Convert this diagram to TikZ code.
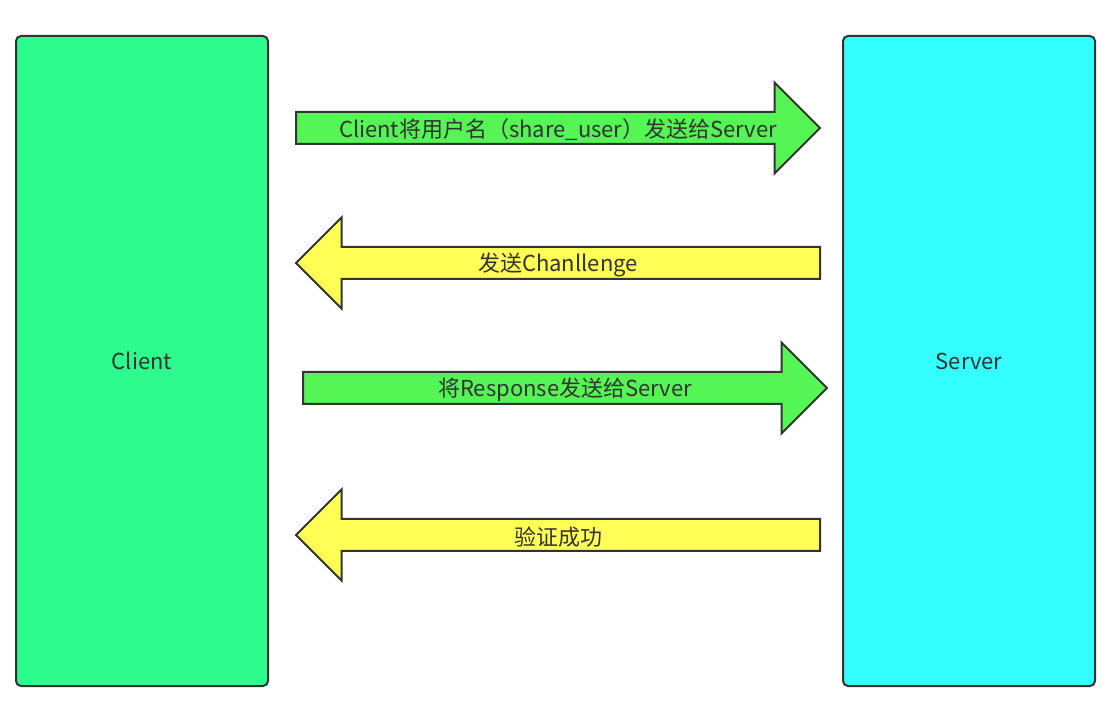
\documentclass[tikz,border=0pt]{standalone}
\usepackage{fontspec}
\setmainfont{Noto Sans CJK SC}
\usetikzlibrary{shapes.arrows, positioning}
\definecolor{clientgreen}{RGB}{46,251,142}
\definecolor{servercyan}{RGB}{51,255,255}
\definecolor{sendgreen}{RGB}{85,245,85}
\definecolor{replyyellow}{RGB}{255,255,85}
\definecolor{edgegray}{RGB}{51,51,51}

\begin{document}
\begin{tikzpicture}[x=0.5pt, y=-0.5pt, every node/.style={font=\fontsize{11}{13}\selectfont, text=edgegray}]
\tikzset{
  party/.style={draw=edgegray, line width=1pt, rounded corners=2.5pt, minimum width=126pt, minimum height=325pt},
  msg/.style={single arrow, draw=edgegray, line width=1pt, minimum height=262pt, text height=7.5pt, text depth=2.5pt, inner ysep=2.5pt, inner xsep=0pt, single arrow head extend=14.75pt, single arrow tip angle=90},
  tosrv/.style={msg, fill=sendgreen, label={[xshift=4pt, yshift=-1pt]center:#1}},
  tocli/.style={msg, fill=replyyellow, shape border rotate=180, label={[xshift=-4pt, yshift=-1pt]center:#1}}
}
\useasboundingbox (0,0) rectangle (1119,710);

\node (client) [party, fill=clientgreen] at (142,361) {Client};
\node (server) [party, fill=servercyan] at (969,361) {Server};

\node (user) [tosrv={Client将用户名（share\_user）发送给Server}] at (550,128) {};
\node (challenge) [tocli={发送Chanllenge}] at (566,263) {};
\node (response) [tosrv={将Response发送给Server}] at (557,388) {};
\node (success) [tocli={验证成功}] at (566,535) {};
\end{tikzpicture}
\end{document}
